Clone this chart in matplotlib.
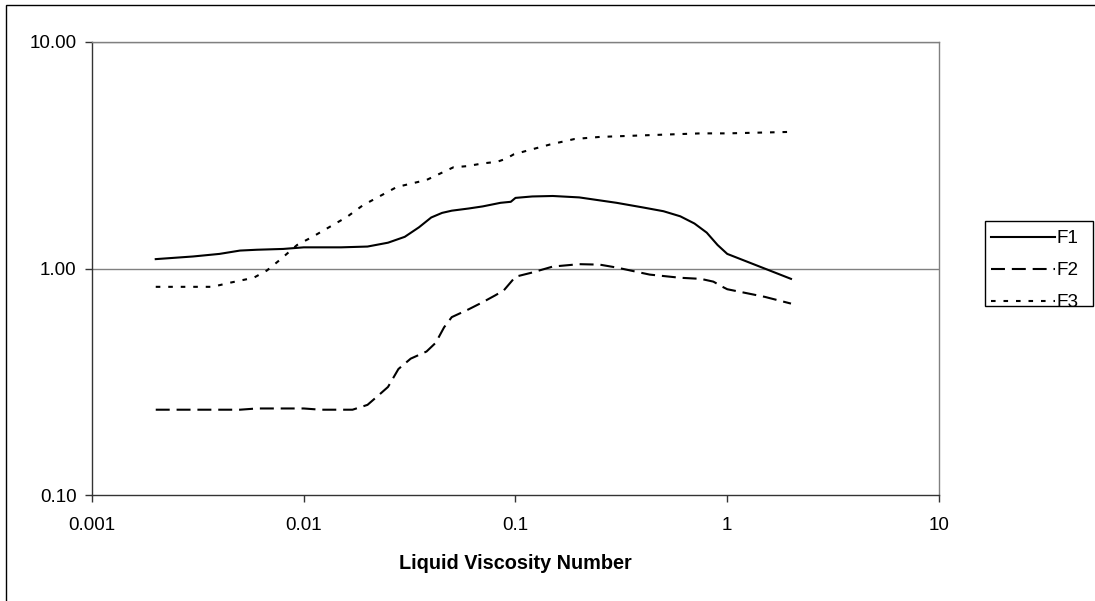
import matplotlib
matplotlib.use("Agg")
import matplotlib.pyplot as plt
from matplotlib.patches import Rectangle
from matplotlib.ticker import FixedLocator, NullLocator, FixedFormatter

plt.rcParams['font.family'] = ['Liberation Sans', 'DejaVu Sans']

# Liquid viscosity number vs. correction factors
f1_x = [0.002, 0.003, 0.004, 0.005, 0.006, 0.008, 0.01, 0.015, 0.02, 0.025,
        0.03, 0.035, 0.04, 0.045, 0.05, 0.06, 0.07, 0.085, 0.095, 0.1,
        0.12, 0.15, 0.2, 0.3, 0.4, 0.5, 0.6, 0.7, 0.8, 0.9, 1.0, 1.5, 2.0]
f1_y = [1.10, 1.13, 1.16, 1.20, 1.21, 1.22, 1.24, 1.24, 1.25, 1.30,
        1.38, 1.52, 1.68, 1.76, 1.80, 1.84, 1.88, 1.95, 1.97, 2.05,
        2.08, 2.09, 2.06, 1.95, 1.86, 1.79, 1.70, 1.58, 1.44, 1.27, 1.16, 1.00, 0.90]

f2_x = [0.002, 0.005, 0.006, 0.01, 0.012, 0.017, 0.02, 0.023, 0.025, 0.028,
        0.032, 0.038, 0.042, 0.046, 0.05, 0.06, 0.07, 0.08, 0.088, 0.095,
        0.1, 0.12, 0.15, 0.2, 0.25, 0.3, 0.43, 0.6, 0.75, 0.86, 0.95, 1.0, 1.5, 2.0]
f2_y = [0.238, 0.238, 0.241, 0.241, 0.238, 0.238, 0.25, 0.28, 0.30, 0.36,
        0.40, 0.43, 0.47, 0.55, 0.61, 0.66, 0.71, 0.76, 0.80, 0.87,
        0.92, 0.96, 1.02, 1.045, 1.04, 1.01, 0.94, 0.91, 0.90, 0.875, 0.83, 0.81, 0.75, 0.70]

f3_x = [0.002, 0.003, 0.0037, 0.0045, 0.0058, 0.0067, 0.0077, 0.0093, 0.011, 0.016,
        0.019, 0.0275, 0.038, 0.045, 0.051, 0.059, 0.07, 0.082, 0.09, 0.098,
        0.113, 0.146, 0.19, 0.25, 0.43, 0.75, 1.0, 2.0]
f3_y = [0.83, 0.83, 0.83, 0.866, 0.91, 0.98, 1.09, 1.27, 1.38, 1.69,
        1.90, 2.29, 2.46, 2.65, 2.80, 2.83, 2.91, 2.96, 3.05, 3.19,
        3.31, 3.53, 3.73, 3.81, 3.88, 3.95, 3.95, 4.01]

x_ticks = [0.001, 0.01, 0.1, 1, 10]
x_tick_labels = ["0.001", "0.01", "0.1", "1", "10"]
y_ticks = [0.1, 1, 10]
y_tick_labels = ["0.10", "1.00", "10.00"]
x_title = "Liquid Viscosity Number"

W, H = 1095, 601
fig = plt.figure(figsize=(W / 100, H / 100), dpi=100)
ax = fig.add_axes([92 / W, 1 - 495 / H, (939 - 92) / W, (495 - 42) / H])

ax.set_xscale('log')
ax.set_yscale('log')
ax.set_xlim(0.001, 10)
ax.set_ylim(0.1, 10)

# horizontal gridlines at decades
for yv in y_ticks[1:]:
    ax.axhline(yv, color='#808080', lw=1.0, zorder=1)

lw = 1.5
ax.plot(f1_x, f1_y, color='black', lw=lw, label='F1', zorder=3)
ax.plot(f2_x, f2_y, color='black', lw=lw, dashes=(6.7, 3.3), label='F2', zorder=3)
ax.plot(f3_x, f3_y, color='black', lw=lw, dashes=(2.2, 3.8), label='F3', zorder=3)

ax.xaxis.set_major_locator(FixedLocator(x_ticks))
ax.xaxis.set_major_formatter(FixedFormatter(x_tick_labels))
ax.xaxis.set_minor_locator(NullLocator())
ax.yaxis.set_major_locator(FixedLocator(y_ticks))
ax.yaxis.set_major_formatter(FixedFormatter(y_tick_labels))
ax.yaxis.set_minor_locator(NullLocator())

ax.tick_params(axis='both', which='major', direction='out', length=5, width=1.0,
               color='#333333', labelsize=13.6, labelcolor='black')
ax.tick_params(axis='x', pad=11)
ax.tick_params(axis='y', pad=6)

for side in ('left', 'bottom'):
    ax.spines[side].set_color('#333333')
    ax.spines[side].set_linewidth(1.0)
for side in ('right', 'top'):
    ax.spines[side].set_color('#808080')
    ax.spines[side].set_linewidth(1.0)

ax.set_xlabel(x_title, fontsize=14.3, fontweight='bold', labelpad=14)

# legend entries, with a separate frame box around them
leg = fig.legend(loc='upper left', bbox_to_anchor=(991 / W, 1 - 230 / H),
                 bbox_transform=fig.transFigure, frameon=False,
                 fontsize=13.6, handlelength=3.4, handletextpad=0.08,
                 borderpad=0, labelspacing=0.78, borderaxespad=0)
fig.patches.append(Rectangle((985 / W, 1 - 306 / H), (1093 - 985) / W, (306 - 221) / H,
                             transform=fig.transFigure, fill=False,
                             edgecolor='black', lw=1.0))

# outer chart border
fig.patches.append(Rectangle((6 / W, -0.02), 1.1, 1 - 5 / H + 0.02,
                             transform=fig.transFigure, fill=False,
                             edgecolor='black', lw=1.0))

fig.savefig('out.png', dpi=100)
